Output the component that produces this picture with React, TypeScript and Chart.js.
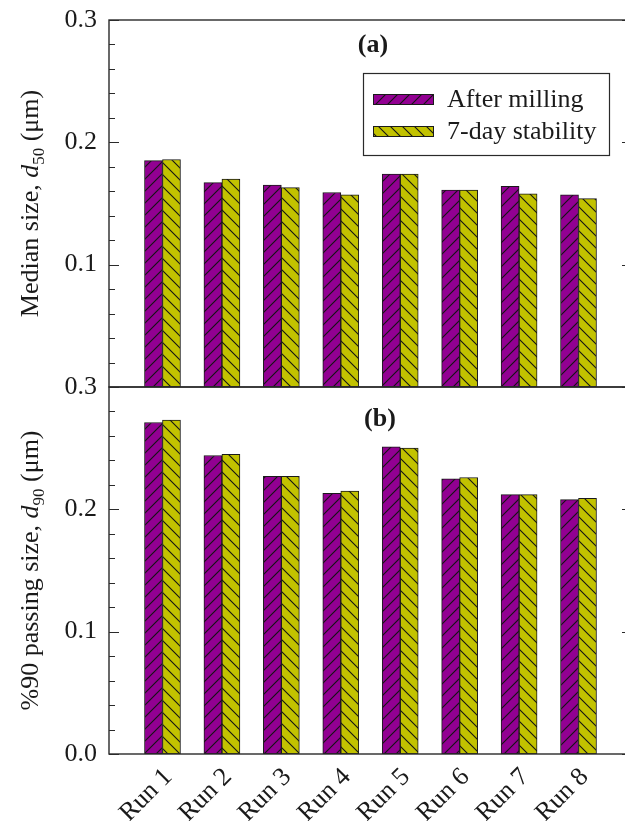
import React, { useEffect, useRef } from "react";
import { Chart, registerables } from "chart.js";

Chart.register(...registerables);

// ---------- data ----------
const runs = ["Run 1", "Run 2", "Run 3", "Run 4", "Run 5", "Run 6", "Run 7", "Run 8"];
const seriesNames = ["After milling", "7-day stability"];
const d50AfterMilling = [0.185, 0.167, 0.165, 0.159, 0.174, 0.161, 0.164, 0.157];
const d50Stability = [0.186, 0.170, 0.163, 0.157, 0.174, 0.161, 0.158, 0.154];
const d90AfterMilling = [0.271, 0.244, 0.227, 0.213, 0.251, 0.225, 0.212, 0.208];
const d90Stability = [0.273, 0.245, 0.227, 0.215, 0.250, 0.226, 0.212, 0.209];
const yTickValues = [0, 0.1, 0.2, 0.3];
const yMinorStep = 0.02;
const panelLabels = ["(a)", "(b)"];
const topTitleParts = ["Median size, ", "d", "50", " (\u03bcm)"];
const bottomTitleParts = ["%90 passing size, ", "d", "90", " (\u03bcm)"];

// ---------- style ----------
const INK = "#1a1a1a";
const MAGENTA = "#920092";
const OLIVE = "#c2c200";
const FONT = "'Liberation Serif', 'Times New Roman', serif";
const CW = 650;

function makeHatch(color: string, dir: "/" | "\\") {
  const s = 12;
  const c = document.createElement("canvas");
  c.width = s;
  c.height = s;
  const g = c.getContext("2d")!;
  g.fillStyle = color;
  g.fillRect(0, 0, s, s);
  g.strokeStyle = "#141414";
  g.lineWidth = 1.1;
  g.beginPath();
  if (dir === "/") {
    g.moveTo(-1, s + 1); g.lineTo(s + 1, -1);
    g.moveTo(-1, 1); g.lineTo(1, -1);
    g.moveTo(s - 1, s + 1); g.lineTo(s + 1, s - 1);
  } else {
    g.moveTo(-1, -1); g.lineTo(s + 1, s + 1);
    g.moveTo(s - 1, -1); g.lineTo(s + 1, 1);
    g.moveTo(-1, s - 1); g.lineTo(1, s + 1);
  }
  g.stroke();
  return g.createPattern(c, "repeat")!;
}

function drawVerticalTitle(ctx: CanvasRenderingContext2D, cx: number, cy: number, parts: string[]) {
  const fonts = [`26px ${FONT}`, `italic 26px ${FONT}`, `17px ${FONT}`, `26px ${FONT}`];
  const dys = [0, 0, 6, 0];
  ctx.save();
  ctx.translate(cx, cy);
  ctx.rotate(-Math.PI / 2);
  let total = 0;
  parts.forEach((t, i) => { ctx.font = fonts[i]; total += ctx.measureText(t).width; });
  let x = -total / 2;
  ctx.fillStyle = INK;
  ctx.textBaseline = "alphabetic";
  ctx.textAlign = "left";
  parts.forEach((t, i) => {
    ctx.font = fonts[i];
    ctx.fillText(t, x, 8.5 + dys[i]);
    x += ctx.measureText(t).width;
  });
  ctx.restore();
}

function decorPlugin(opts: { titleParts: string[]; panel: string; panelOffset: [number, number]; legend: boolean }) {
  return {
    id: "decor",
    afterDraw(chart: any) {
      const ctx: CanvasRenderingContext2D = chart.ctx;
      const { left, right, top, bottom } = chart.chartArea;
      const ys = chart.scales.y;
      ctx.save();
      // frame
      ctx.strokeStyle = "#2a2a2a";
      ctx.lineWidth = 1.4;
      ctx.strokeRect(left, top, right - left, bottom - top);
      // inward ticks on left and right
      ctx.lineWidth = 1.1;
      ctx.beginPath();
      for (let v = ys.min; v <= ys.max + 1e-9; v += yMinorStep) {
        const y = Math.round(ys.getPixelForValue(v)) + 0.5;
        const major = Math.abs(v * 10 - Math.round(v * 10)) < 1e-6;
        const len = major ? 10 : 6;
        ctx.moveTo(left, y); ctx.lineTo(left + len, y);
        ctx.moveTo(right, y); ctx.lineTo(right - len, y);
      }
      ctx.stroke();
      // y title
      drawVerticalTitle(ctx, 29, (top + bottom) / 2, opts.titleParts);
      // panel label
      ctx.fillStyle = INK;
      ctx.font = `bold 26px ${FONT}`;
      ctx.textAlign = "center";
      ctx.textBaseline = "middle";
      ctx.fillText(opts.panel, left + opts.panelOffset[0], top + opts.panelOffset[1]);
      // legend
      if (opts.legend) {
        const bx = 363, by = 73, bw = 246, bh = 82;
        ctx.fillStyle = "#ffffff";
        ctx.fillRect(bx, by, bw, bh);
        ctx.strokeStyle = "#2a2a2a";
        ctx.lineWidth = 1.2;
        ctx.strokeRect(bx + 0.5, by + 0.5, bw, bh);
        chart.data.datasets.forEach((ds: any, i: number) => {
          const cy = 99 + i * 32;
          ctx.fillStyle = ds.backgroundColor;
          ctx.fillRect(373, cy - 5, 60, 10);
          ctx.strokeStyle = "#1a1a1a";
          ctx.lineWidth = 1;
          ctx.strokeRect(373.5, cy - 4.5, 60, 10);
          ctx.fillStyle = INK;
          ctx.font = `26px ${FONT}`;
          ctx.textAlign = "left";
          ctx.textBaseline = "middle";
          ctx.fillText(ds.label, 447, cy + 1);
        });
      }
      ctx.restore();
    },
  };
}

function barDataset(label: string, values: number[], bg: CanvasPattern) {
  return {
    label,
    data: values.map((y, i) => ({ x: i, y })),
    backgroundColor: bg,
    borderColor: "#1a1a1a",
    borderWidth: 1,
    borderSkipped: false,
    barThickness: 18,
  };
}

function yScale(hideZero: boolean) {
  return {
    min: 0,
    max: 0.3,
    afterFit: (s: any) => { s.width = 109; s.paddingTop = 0; s.paddingBottom = 0; },
    afterBuildTicks: (s: any) => {
      s.ticks = yTickValues.filter((v) => !(hideZero && v === 0)).map((v) => ({ value: v }));
    },
    grid: { display: false, drawTicks: false },
    border: { display: false },
    ticks: {
      padding: 12,
      color: INK,
      font: { family: FONT, size: 26 },
      callback: (v: any) => Number(v).toFixed(1),
    },
  };
}

export default function App() {
  const topRef = useRef<HTMLCanvasElement>(null);
  const botRef = useRef<HTMLCanvasElement>(null);

  useEffect(() => {
    const pm = makeHatch(MAGENTA, "/");
    const po = makeHatch(OLIVE, "\\");

    const top = new Chart(topRef.current!, {
      type: "bar",
      data: {
        datasets: [
          barDataset(seriesNames[0], d50AfterMilling, pm),
          barDataset(seriesNames[1], d50Stability, po),
        ] as any,
      },
      options: {
        responsive: false,
        animation: false,
        layout: { padding: { top: 20, bottom: 15, left: 0, right: 18 } },
        plugins: { legend: { display: false }, tooltip: { enabled: false } },
        scales: {
          x: { type: "linear", min: -0.9, max: 7.9, offset: false, display: false },
          y: yScale(true) as any,
        },
      },
      plugins: [decorPlugin({ titleParts: topTitleParts, panel: panelLabels[0], panelOffset: [264, 25], legend: true })],
    });

    const bot = new Chart(botRef.current!, {
      type: "bar",
      data: {
        datasets: [
          barDataset(seriesNames[0], d90AfterMilling, pm),
          barDataset(seriesNames[1], d90Stability, po),
        ] as any,
      },
      options: {
        responsive: false,
        animation: false,
        layout: { padding: { top: 17, bottom: 0, left: 0, right: 18 } },
        plugins: { legend: { display: false }, tooltip: { enabled: false } },
        scales: {
          x: {
            type: "linear",
            min: -0.9,
            max: 7.9,
            offset: false,
            afterFit: (s: any) => { s.height = 67; s.paddingLeft = 0; s.paddingRight = 0; },
            afterBuildTicks: (s: any) => { s.ticks = runs.map((_, i) => ({ value: i })); },
            grid: { display: false, drawTicks: false },
            border: { display: false },
            ticks: {
              autoSkip: false,
              minRotation: 45,
              maxRotation: 45,
              padding: 8,
              labelOffset: 6,
              color: INK,
              font: { family: FONT, size: 26 },
              callback: (v: any) => runs[Math.round(Number(v))] ?? "",
            },
          } as any,
          y: yScale(false) as any,
        },
      },
      plugins: [decorPlugin({ titleParts: bottomTitleParts, panel: panelLabels[1], panelOffset: [271, 32], legend: false })],
    });

    return () => { top.destroy(); bot.destroy(); };
  }, []);

  return (
    <div style={{ position: "fixed", left: 0, top: 0, width: 625, height: 821, overflow: "hidden", background: "#fff" }}>
      <canvas ref={topRef} width={CW} height={402} style={{ position: "absolute", left: 0, top: 0, display: "block" }} />
      <canvas ref={botRef} width={CW} height={451} style={{ position: "absolute", left: 0, top: 370, display: "block" }} />
    </div>
  );
}
